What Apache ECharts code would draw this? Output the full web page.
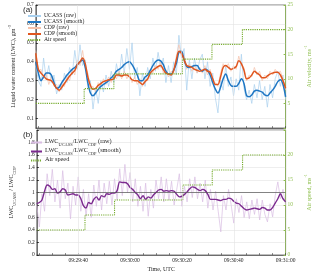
<!DOCTYPE html>
<html><head><meta charset="utf-8">
<script src="https://cdn.jsdelivr.net/npm/echarts@6/dist/echarts.min.js"></script>
<style>html,body{margin:0;padding:0;background:#fff}#c{width:320px;height:273px}</style>
</head><body><div id="c"></div>
<script>
// time in seconds after 09:29:00, one sample per second from 24 s to 120 s
const tStart = 24, tEnd = 120;
const ucassRaw = [0.38,0.30,0.27,0.42,0.31,0.38,0.29,0.33,0.23,0.28,0.25,0.34,0.29,0.37,0.33,0.46,0.36,0.49,0.38,0.41,0.26,0.30,0.15,0.26,0.18,0.30,0.24,0.33,0.27,0.35,0.29,0.39,0.32,0.44,0.34,0.47,0.36,0.50,0.31,0.37,0.22,0.34,0.27,0.37,0.31,0.42,0.35,0.45,0.37,0.42,0.29,0.38,0.29,0.40,0.33,0.54,0.42,0.47,0.25,0.41,0.31,0.42,0.34,0.41,0.44,0.31,0.40,0.27,0.34,0.21,0.13,0.30,0.25,0.38,0.27,0.32,0.22,0.31,0.25,0.44,0.26,0.20,0.25,0.18,0.28,0.21,0.30,0.20,0.27,0.16,0.28,0.21,0.31,0.35,0.27,0.33,0.20];
const ucassSmooth = [0.40,0.34,0.30,0.32,0.34,0.34,0.33,0.29,0.26,0.265,0.29,0.31,0.33,0.345,0.36,0.37,0.385,0.40,0.41,0.37,0.29,0.235,0.22,0.235,0.255,0.27,0.28,0.29,0.30,0.315,0.33,0.35,0.36,0.37,0.385,0.395,0.40,0.385,0.36,0.33,0.30,0.30,0.32,0.33,0.355,0.38,0.40,0.41,0.405,0.385,0.35,0.335,0.335,0.355,0.39,0.45,0.455,0.41,0.375,0.37,0.375,0.38,0.38,0.36,0.35,0.36,0.355,0.33,0.29,0.255,0.235,0.265,0.31,0.335,0.30,0.275,0.27,0.27,0.285,0.31,0.285,0.22,0.215,0.225,0.245,0.25,0.245,0.24,0.225,0.22,0.235,0.25,0.27,0.295,0.305,0.28,0.215];
const cdpRaw = [0.46,0.35,0.36,0.31,0.34,0.28,0.32,0.27,0.28,0.24,0.28,0.27,0.32,0.30,0.36,0.33,0.41,0.38,0.46,0.37,0.34,0.26,0.27,0.24,0.29,0.27,0.31,0.28,0.32,0.29,0.33,0.31,0.35,0.31,0.35,0.31,0.34,0.29,0.32,0.28,0.31,0.27,0.31,0.30,0.36,0.34,0.38,0.36,0.40,0.34,0.36,0.32,0.35,0.34,0.43,0.49,0.43,0.43,0.36,0.39,0.35,0.38,0.34,0.37,0.34,0.38,0.33,0.36,0.30,0.29,0.27,0.34,0.39,0.37,0.39,0.35,0.38,0.36,0.43,0.38,0.37,0.30,0.33,0.32,0.37,0.33,0.35,0.30,0.33,0.31,0.35,0.33,0.36,0.34,0.35,0.31,0.25];
const cdpSmooth = [0.445,0.36,0.34,0.325,0.31,0.305,0.30,0.28,0.26,0.25,0.265,0.285,0.305,0.325,0.34,0.355,0.385,0.40,0.42,0.39,0.32,0.275,0.255,0.26,0.275,0.285,0.295,0.30,0.305,0.305,0.31,0.33,0.33,0.325,0.33,0.33,0.32,0.305,0.30,0.30,0.29,0.28,0.295,0.31,0.34,0.355,0.365,0.375,0.38,0.36,0.34,0.335,0.33,0.355,0.41,0.455,0.445,0.41,0.38,0.375,0.37,0.36,0.355,0.35,0.355,0.36,0.35,0.345,0.31,0.28,0.28,0.32,0.37,0.38,0.37,0.36,0.365,0.375,0.405,0.39,0.355,0.31,0.315,0.33,0.35,0.34,0.33,0.315,0.315,0.325,0.335,0.34,0.345,0.345,0.33,0.30,0.26];
const ratioRaw = [0.80,0.45,0.98,0.70,1.30,0.95,1.37,0.85,1.20,0.75,1.35,0.90,1.15,0.58,1.10,0.80,1.25,0.70,1.05,0.62,0.98,0.60,1.12,0.78,1.20,0.72,1.15,0.82,1.18,0.80,1.22,0.88,1.38,0.95,1.45,1.00,1.32,0.85,1.22,0.78,1.10,0.70,1.15,0.62,1.05,0.75,1.20,0.90,1.25,0.85,1.22,0.88,1.18,0.80,1.05,1.30,0.78,1.10,0.85,1.22,0.92,1.25,0.90,1.15,0.85,1.20,0.75,1.05,0.72,1.02,0.70,0.37,0.95,0.72,1.05,0.80,0.51,0.90,0.68,0.95,0.60,0.85,0.58,0.88,0.65,0.90,0.56,0.88,0.65,0.53,0.82,0.61,0.95,1.17,0.90,1.05,0.80];
const ratioSmooth = [0.82,0.84,0.88,1.02,1.12,1.10,1.05,1.06,0.99,1.01,1.06,1.04,0.96,0.97,0.98,0.96,0.96,0.90,0.79,0.75,0.84,0.82,0.89,0.93,0.88,0.95,0.93,0.98,0.97,0.99,0.99,1.03,1.17,1.16,1.16,1.14,1.08,1.05,1.00,0.96,0.90,0.95,0.89,0.93,0.91,0.96,1.00,1.04,1.05,1.02,1.03,1.02,1.03,1.02,0.97,0.93,0.94,0.97,1.01,1.06,1.09,1.08,1.05,1.03,1.05,1.03,0.97,0.89,0.89,0.89,0.88,0.87,0.89,0.89,0.91,0.90,0.86,0.83,0.82,0.78,0.74,0.72,0.73,0.74,0.75,0.74,0.73,0.76,0.75,0.72,0.72,0.76,0.83,0.90,0.98,0.90,0.85];
// air speed steps: change times (s) and speed levels (m/s)
const airTimes = [24, 42.6, 54, 80.3, 91.7, 103.4, 120];
const airLevels = [5, 8, 11, 14, 17, 20];
const xTickLabels = [40, 60, 80, 100, 120];

const times = [];
for (let s = tStart; s <= tEnd; s++) times.push(s);
const pair = arr => times.map((t, i) => [t, arr[i]]);
const airData = [];
airLevels.forEach((v, i) => { airData.push([airTimes[i], v]); airData.push([airTimes[i + 1], v]); });
const minorTicks = [];
for (let s = 25; s <= 120; s += 5) minorTicks.push(s);

function pad(n){ return (n < 10 ? '0' : '') + n; }
function fmt(v){ const tot = 9*3600 + 29*60 + v; return pad(Math.floor(tot/3600)) + ':' + pad(Math.floor(tot%3600/60)) + ':' + pad(Math.round(tot%60)); }

const SERIF = 'Liberation Serif';
const DARK = '#262626';
const GREEN = '#77AC30';
const GREEN_AX = '#8fbf4f';
const GRIDC = '#e3e3e3';

const vGrid = {
  silent: true, symbol: 'none', label: {show: false},
  lineStyle: {color: GRIDC, width: 0.6, type: 'solid'},
  data: xTickLabels.slice(0, 4).map(v => ({xAxis: v}))
};

function xAx(gi, showLabel){
  return {
    type: 'value', gridIndex: gi, min: tStart, max: tEnd,
    axisLine: {lineStyle: {color: DARK, width: 0.6}},
    axisTick: {inside: true, length: 2, customValues: minorTicks, lineStyle: {color: DARK, width: 0.5}},
    axisLabel: {show: showLabel, customValues: xTickLabels, formatter: fmt, fontFamily: SERIF, fontSize: 5.5, color: DARK, margin: 3},
    splitLine: {show: false},
    name: showLabel ? 'Time, UTC' : '', nameLocation: 'middle', nameGap: 11,
    nameTextStyle: {fontFamily: SERIF, fontSize: 6, color: DARK}
  };
}

const rich = {
  n: {fontFamily: SERIF, fontSize: 6, color: DARK, lineHeight: 8, verticalAlign: 'bottom'},
  sup: {fontFamily: SERIF, fontSize: 4, color: DARK, lineHeight: 8, verticalAlign: 'top'},
  ng: {fontFamily: SERIF, fontSize: 6, color: GREEN_AX, lineHeight: 8, verticalAlign: 'bottom'},
  supg: {fontFamily: SERIF, fontSize: 4, color: GREEN_AX, lineHeight: 8, verticalAlign: 'top'},
  m: {fontFamily: SERIF, fontSize: 6, color: DARK, lineHeight: 9, verticalAlign: 'top'},
  sub: {fontFamily: SERIF, fontSize: 4.2, color: DARK, lineHeight: 9, verticalAlign: 'bottom'}
};
const legRich = {
  m: {fontFamily: SERIF, fontSize: 6.3, color: DARK, lineHeight: 9, verticalAlign: 'top'},
  sub: {fontFamily: SERIF, fontSize: 4.4, color: DARK, lineHeight: 9, verticalAlign: 'bottom'}
};
const hiddenSymbol = {color: 'rgba(0,0,0,0)', borderWidth: 0, opacity: 0};

const option = {
  backgroundColor: '#fff',
  animation: false,
  grid: [
    {left: 21, right: 21, top: 5, height: 123, show: true, borderColor: DARK, borderWidth: 0.6},
    {left: 21, right: 21, top: 130, height: 125, show: true, borderColor: DARK, borderWidth: 0.6}
  ],
  xAxis: [xAx(0, false), xAx(1, true)],
  yAxis: [
    {type: 'value', gridIndex: 0, min: 0.05, max: 0.7, position: 'left',
     axisLine: {show: true, lineStyle: {color: DARK, width: 0.6}},
     axisTick: {show: true, inside: true, length: 2, customValues: [0.1,0.2,0.3,0.4,0.5,0.6,0.7]},
     axisLabel: {customValues: [0.1,0.2,0.3,0.4,0.5,0.6,0.7], formatter: v => v.toFixed(1), fontFamily: SERIF, fontSize: 5.5, color: DARK, margin: 2},
     splitLine: {show: true, lineStyle: {color: GRIDC, width: 0.6}},
     name: '{n|Liquid water content (LWC), gm}{sup|-3}', nameLocation: 'middle', nameGap: 11, nameRotate: 90,
     nameTextStyle: {rich: rich}},
    {type: 'value', gridIndex: 0, min: 0, max: 25, interval: 5, position: 'right',
     axisLine: {show: true, lineStyle: {color: GREEN_AX, width: 0.7}},
     axisTick: {show: true, inside: true, length: 2, lineStyle: {color: GREEN_AX}},
     axisLabel: {formatter: v => v === 0 ? '' : String(v), fontFamily: SERIF, fontSize: 5.5, color: GREEN_AX, margin: 2},
     splitLine: {show: false},
     name: '{ng|Air velocity, ms}{supg|-1}', nameLocation: 'middle', nameGap: 13, nameRotate: 90,
     nameTextStyle: {rich: rich}},
    {type: 'value', gridIndex: 1, min: 0, max: 2, interval: 0.2, position: 'left',
     axisLine: {show: true, lineStyle: {color: DARK, width: 0.6}},
     axisTick: {show: true, inside: true, length: 2},
     axisLabel: {formatter: v => (Math.abs(v - 2) < 1e-6 ? '' : (v === 0 ? '0' : (Math.abs(v-1)<1e-6 ? '1' : v.toFixed(1)))), fontFamily: SERIF, fontSize: 5.5, color: DARK, margin: 2},
     splitLine: {show: true, lineStyle: {color: GRIDC, width: 0.6}},
     name: '{m|LWC}{sub|UCASS}{m| / LWC}{sub|CDP}', nameLocation: 'middle', nameGap: 12, nameRotate: 90,
     nameTextStyle: {rich: rich}},
    {type: 'value', gridIndex: 1, min: 0, max: 25, interval: 5, position: 'right',
     axisLine: {show: true, lineStyle: {color: GREEN_AX, width: 0.7}},
     axisTick: {show: true, inside: true, length: 2, lineStyle: {color: GREEN_AX}},
     axisLabel: {formatter: v => v === 25 ? '' : String(v), fontFamily: SERIF, fontSize: 5.5, color: GREEN_AX, margin: 2},
     splitLine: {show: false},
     name: '{ng|Air speed, ms}{supg|-1}', nameLocation: 'middle', nameGap: 13, nameRotate: 90,
     nameTextStyle: {rich: rich}}
  ],
  legend: [
    {orient: 'vertical', left: 27, top: 13, itemWidth: 13, itemHeight: 6, itemGap: 0, padding: 0,
     itemStyle: hiddenSymbol,
     textStyle: {fontFamily: SERIF, fontSize: 5.7, color: DARK, lineHeight: 6, padding: [0,0,0,-2]},
     data: ['UCASS (raw)', 'UCASS (smooth)', 'CDP (raw)', 'CDP (smooth)', 'Air speed']},
    {orient: 'vertical', left: 30, top: 138, itemWidth: 11, itemHeight: 8.5, itemGap: 0, padding: 0,
     itemStyle: hiddenSymbol,
     textStyle: {fontFamily: SERIF, fontSize: 6.3, color: DARK, lineHeight: 9, rich: legRich, padding: [0,0,0,-2]},
     formatter: name => name === 'ratio (raw)' ? '{m|LWC}{sub|UCASS}{m|/LWC}{sub|CDP}{m| (raw)}'
                      : name === 'ratio (smooth)' ? '{m|LWC}{sub|UCASS}{m|/LWC}{sub|CDP}{m| (smooth)}' : '{m|Air speed}',
     data: ['ratio (raw)', 'ratio (smooth)', 'Air speed (b)']}
  ],
  graphic: [
    {type: 'text', left: 23, top: 6, style: {text: '(a)', font: '8px "Liberation Sans"', fill: DARK}},
    {type: 'text', left: 23, top: 131, style: {text: '(b)', font: '8px "Liberation Sans"', fill: DARK}}
  ],
  series: [
    {name: 'UCASS (raw)', type: 'line', xAxisIndex: 0, yAxisIndex: 0, data: pair(ucassRaw), symbol: 'none',
     lineStyle: {color: '#a9d0ee', width: 0.7}, itemStyle: {color: '#a9d0ee'}, markLine: vGrid},
    {name: 'CDP (raw)', type: 'line', xAxisIndex: 0, yAxisIndex: 0, data: pair(cdpRaw), symbol: 'none',
     lineStyle: {color: '#f5c2aa', width: 0.7}, itemStyle: {color: '#f5c2aa'}},
    {name: 'UCASS (smooth)', type: 'line', xAxisIndex: 0, yAxisIndex: 0, data: pair(ucassSmooth), symbol: 'none', smooth: 0.3,
     lineStyle: {color: '#1f77c4', width: 1.5}, itemStyle: {color: '#1f77c4'}},
    {name: 'CDP (smooth)', type: 'line', xAxisIndex: 0, yAxisIndex: 0, data: pair(cdpSmooth), symbol: 'none', smooth: 0.3,
     lineStyle: {color: '#e0561f', width: 1.5}, itemStyle: {color: '#e0561f'}},
    {name: 'Air speed', type: 'line', xAxisIndex: 0, yAxisIndex: 1, data: airData, symbol: 'none',
     lineStyle: {color: GREEN, width: 1.1, type: [1.2, 1]}, itemStyle: {color: GREEN}},
    {name: 'ratio (raw)', type: 'line', xAxisIndex: 1, yAxisIndex: 2, data: pair(ratioRaw), symbol: 'none',
     lineStyle: {color: '#d9bde3', width: 0.7}, itemStyle: {color: '#d9bde3'},
     markLine: {silent: true, symbol: 'none', label: {show: false}, data: xTickLabels.slice(0, 4).map(v => ({xAxis: v})).concat([{yAxis: 1, lineStyle: {color: '#555', width: 0.7}}]),
                lineStyle: {color: GRIDC, width: 0.6, type: 'solid'}}},
    {name: 'ratio (smooth)', type: 'line', xAxisIndex: 1, yAxisIndex: 2, data: pair(ratioSmooth), symbol: 'none', smooth: 0.3,
     lineStyle: {color: '#7b2a8e', width: 1.4}, itemStyle: {color: '#7b2a8e'}},
    {name: 'Air speed (b)', type: 'line', xAxisIndex: 1, yAxisIndex: 3, data: airData, symbol: 'none',
     lineStyle: {color: GREEN, width: 1.1, type: [1.2, 1]}, itemStyle: {color: GREEN}}
  ]
};
echarts.init(document.getElementById('c'), null, {renderer: 'canvas'}).setOption(option);
</script></body></html>
